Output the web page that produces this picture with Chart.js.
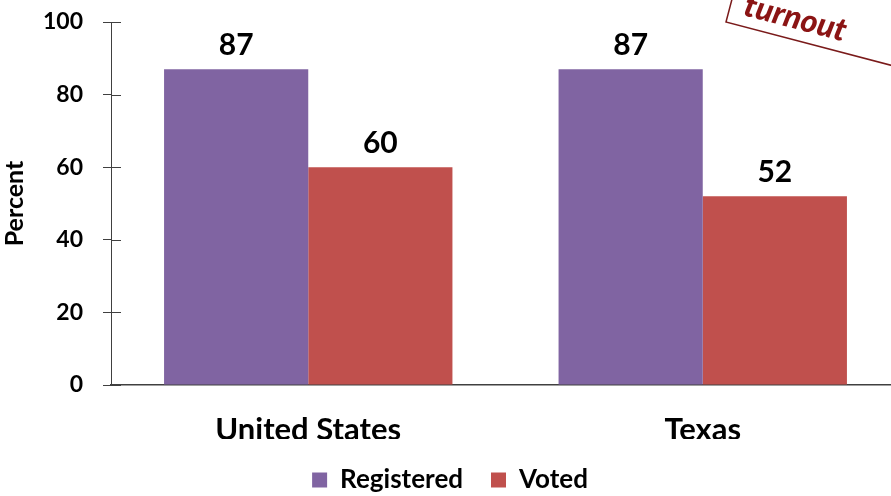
<!DOCTYPE html>
<html>
<head>
<meta charset="utf-8">
<script src="https://cdn.jsdelivr.net/npm/chart.js@4.4.1/dist/chart.umd.min.js"></script>
<style>
  html, body { margin: 0; padding: 0; background: #fff; overflow: hidden; }
  #wrap { width: 900px; height: 496px; }
</style>
</head>
<body>
<div id="wrap"><canvas id="chart"></canvas></div>
<script>
const categories = ['United States', 'Texas'];
const registered = [87, 87];
const voted = [60, 52];
const yTicks = [0, 20, 40, 60, 80, 100];

const FONT = 'Lato, "Open Sans", sans-serif';
const AXIS = '#404040';

// value labels above each bar
const valueLabels = {
  id: 'valueLabels',
  afterDatasetsDraw(chart) {
    const ctx = chart.ctx;
    ctx.save();
    ctx.font = `bold 30px ${FONT}`;
    ctx.fillStyle = '#000';
    ctx.textAlign = 'center';
    ctx.textBaseline = 'bottom';
    chart.data.datasets.forEach((ds, i) => {
      chart.getDatasetMeta(i).data.forEach((el, j) => {
        ctx.fillText(ds.data[j], el.x, el.y - 9);
      });
    });
    ctx.restore();
  }
};

// y ticks cross the axis line
const innerTicks = {
  id: 'innerTicks',
  afterDraw(chart) {
    const y = chart.scales.y;
    const ctx = chart.ctx;
    ctx.save();
    ctx.strokeStyle = AXIS;
    ctx.lineWidth = 1;
    y.ticks.forEach((t, i) => {
      const py = Math.round(y.getPixelForTick(i)) + 0.5;
      ctx.beginPath();
      ctx.moveTo(y.right, py);
      ctx.lineTo(y.right + 10, py);
      ctx.stroke();
    });
    ctx.restore();
  }
};

// partially cut-off stamp in the top right corner
const stamp = {
  id: 'stamp',
  afterDraw(chart) {
    const ctx = chart.ctx;
    ctx.save();
    ctx.translate(726, 22);
    ctx.rotate(14.7 * Math.PI / 180);
    ctx.strokeStyle = '#7a1a1a';
    ctx.lineWidth = 1.5;
    ctx.strokeRect(0, -110, 240, 110);
    ctx.fillStyle = '#8b1414';
    ctx.font = `italic 900 32px ${FONT}`;
    ctx.textBaseline = 'alphabetic';
    ctx.textAlign = 'left';
    ctx.fillText('turnout', 14, -11);
    ctx.textAlign = 'right';
    ctx.fillText('Low voter', 160, -63);
    ctx.restore();
  }
};

new Chart(document.getElementById('chart'), {
  type: 'bar',
  data: {
    labels: categories,
    datasets: [
      { label: 'Registered', data: registered, backgroundColor: '#8064A2' },
      { label: 'Voted', data: voted, backgroundColor: '#C0504D' }
    ]
  },
  options: {
    responsive: true,
    maintainAspectRatio: false,
    animation: false,
    layout: { padding: { top: 22, left: 0, right: 0, bottom: -7 } },
    datasets: { bar: { categoryPercentage: 0.731, barPercentage: 1 } },
    plugins: {
      tooltip: { enabled: false },
      legend: {
        position: 'bottom',
        labels: {
          color: '#000',
          font: { family: FONT, size: 26, weight: 'bold' },
          boxWidth: 15,
          boxHeight: 15,
          padding: 28
        }
      }
    },
    scales: {
      x: {
        grid: { display: false },
        border: { color: AXIS, width: 1.5 },
        ticks: {
          color: '#000',
          padding: 18,
          font: { family: FONT, size: 31, weight: 'bold' }
        },
        afterFit(scale) { scale.height = 54; }
      },
      y: {
        min: 0,
        max: 100,
        afterBuildTicks(scale) { scale.ticks = yTicks.map(v => ({ value: v })); },
        grid: { drawOnChartArea: false, color: AXIS, tickLength: 8 },
        border: { color: AXIS, width: 1 },
        ticks: {
          color: '#000',
          padding: 20,
          font: { family: FONT, size: 23, weight: 'bold' }
        },
        title: {
          display: true,
          text: 'Percent',
          color: '#000',
          padding: { top: 0, bottom: 0 },
          font: { family: FONT, size: 25, weight: 'bold' }
        },
        afterFit(scale) {
          scale.width = 111;
          scale.paddingTop = 0;
          scale.paddingBottom = 0;
        }
      }
    }
  },
  plugins: [valueLabels, innerTicks, stamp]
});
</script>
</body>
</html>
